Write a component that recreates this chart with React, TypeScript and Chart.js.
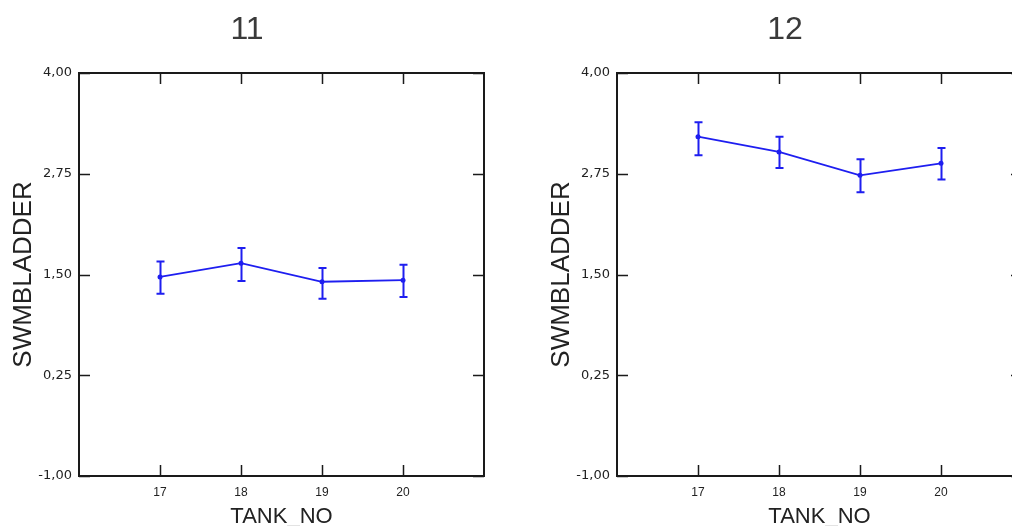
import React, { useEffect, useRef } from 'react';
import { Chart, registerables } from 'chart.js';

Chart.register(...registerables);

const TANKS = [17, 18, 19, 20];
const Y_TICKS = [-1, 0.25, 1.5, 2.75, 4];
const X_MIN = 16;
const X_MAX = 21;
const Y_MIN = -1;
const Y_MAX = 4;

const TITLE_11 = '11';
const MEAN_11 = [1.47, 1.64, 1.41, 1.43];
const UPPER_11 = [1.66, 1.83, 1.58, 1.62];
const LOWER_11 = [1.26, 1.42, 1.2, 1.22];

const TITLE_12 = '12';
const MEAN_12 = [3.21, 3.02, 2.73, 2.88];
const UPPER_12 = [3.39, 3.21, 2.93, 3.07];
const LOWER_12 = [2.98, 2.82, 2.52, 2.68];

const X_TITLE = 'TANK_NO';
const Y_TITLE = 'SWMBLADDER';

const BLUE = '#1e1ef0';
const INK = '#1a1a1a';

const framePlugin = {
  id: 'frame',
  afterDraw(chart: any) {
    const { ctx, chartArea: a, scales } = chart;
    const xs = scales.x;
    const ys = scales.y;
    const L = 11;
    ctx.save();
    ctx.strokeStyle = INK;
    ctx.lineWidth = 1.5;
    ctx.beginPath();
    TANKS.forEach((t) => {
      const px = Math.round(xs.getPixelForValue(t)) + 0.5;
      ctx.moveTo(px, a.bottom);
      ctx.lineTo(px, a.bottom - L);
      ctx.moveTo(px, a.top);
      ctx.lineTo(px, a.top + L);
    });
    Y_TICKS.forEach((v) => {
      const py = Math.round(ys.getPixelForValue(v)) + 0.5;
      ctx.moveTo(a.left, py);
      ctx.lineTo(a.left + L, py);
      ctx.moveTo(a.right, py);
      ctx.lineTo(a.right - L, py);
    });
    ctx.stroke();
    ctx.lineWidth = 2;
    ctx.strokeRect(a.left, a.top, a.right - a.left, a.bottom - a.top);
    ctx.restore();
  },
};

const errorBarPlugin = {
  id: 'errorBars',
  afterDatasetsDraw(chart: any) {
    const { ctx, scales } = chart;
    const xs = scales.x;
    const ys = scales.y;
    ctx.save();
    chart.data.datasets.forEach((ds: any) => {
      if (!ds.errLow || !ds.errHigh) return;
      ctx.strokeStyle = ds.borderColor;
      ctx.lineWidth = 2;
      ds.data.forEach((pt: any, i: number) => {
        const px = Math.round(xs.getPixelForValue(pt.x)) + 0.5;
        const pHi = ys.getPixelForValue(ds.errHigh[i]);
        const pLo = ys.getPixelForValue(ds.errLow[i]);
        ctx.beginPath();
        ctx.moveTo(px, pHi);
        ctx.lineTo(px, pLo);
        ctx.moveTo(px - 4, pHi);
        ctx.lineTo(px + 4, pHi);
        ctx.moveTo(px - 4, pLo);
        ctx.lineTo(px + 4, pLo);
        ctx.stroke();
      });
    });
    ctx.restore();
  },
};

function Panel(props: {
  left: number;
  title: string;
  mean: number[];
  upper: number[];
  lower: number[];
}) {
  const ref = useRef<HTMLCanvasElement | null>(null);
  useEffect(() => {
    if (!ref.current) return;
    const chart = new Chart(ref.current, {
      type: 'line',
      data: {
        datasets: [
          {
            data: TANKS.map((t, i) => ({ x: t, y: props.mean[i] })),
            borderColor: BLUE,
            backgroundColor: BLUE,
            borderWidth: 1.8,
            pointRadius: 2.5,
            pointBorderWidth: 0,
            pointBackgroundColor: BLUE,
            tension: 0,
            fill: false,
            errHigh: props.upper,
            errLow: props.lower,
          } as any,
        ],
      },
      options: {
        animation: false,
        responsive: false,
        devicePixelRatio: 1,
        layout: { padding: { left: 10, right: 10, top: 0, bottom: 0 } },
        plugins: {
          legend: { display: false },
          tooltip: { enabled: false },
          title: {
            display: true,
            text: props.title,
            color: '#3a3a3a',
            font: { family: 'Liberation Sans', size: 32, weight: 'normal', lineHeight: 1.2 },
            padding: { top: 11, bottom: 23.6 },
          },
        },
        scales: {
          x: {
            type: 'linear',
            min: X_MIN,
            max: X_MAX,
            grid: { display: false, drawTicks: false },
            border: { display: false },
            afterBuildTicks: (s: any) => {
              s.ticks = TANKS.map((v) => ({ value: v }));
            },
            afterFit: (s: any) => {
              s.height = 64;
            },
            ticks: {
              autoSkip: false,
              maxRotation: 0,
              padding: 9,
              color: '#222',
              font: { family: 'Liberation Sans', size: 12 },
              callback: (v: any) => String(v),
            },
            title: {
              display: true,
              text: X_TITLE,
              color: '#222',
              font: { family: 'Liberation Sans', size: 22, lineHeight: 1.2 },
              padding: { top: 0, bottom: 10 },
            },
          },
          y: {
            type: 'linear',
            min: Y_MIN,
            max: Y_MAX,
            grid: { display: false, drawTicks: false },
            border: { display: false },
            afterBuildTicks: (s: any) => {
              s.ticks = Y_TICKS.map((v) => ({ value: v }));
            },
            afterFit: (s: any) => {
              s.width = 69;
            },
            ticks: {
              autoSkip: false,
              padding: 7,
              color: '#222',
              font: { family: 'DejaVu Sans', size: 13 },
              callback: (v: any) => Number(v).toFixed(2).replace('.', ','),
            },
            title: {
              display: true,
              text: Y_TITLE,
              color: '#222',
              font: { family: 'Liberation Sans', size: 26, lineHeight: 1.0 },
              padding: { top: 1, bottom: 0 },
            },
          },
        },
      } as any,
      plugins: [framePlugin, errorBarPlugin],
    });
    return () => chart.destroy();
  }, []);
  return (
    <div style={{ position: 'absolute', left: props.left, top: 0, width: 494, height: 540 }}>
      <canvas ref={ref} width={494} height={540} style={{ display: 'block' }} />
    </div>
  );
}

export default function App() {
  return (
    <div
      style={{
        position: 'fixed',
        left: 0,
        top: 0,
        width: '100vw',
        height: '100vh',
        overflow: 'hidden',
        background: '#fff',
      }}
    >
      <Panel left={0} title={TITLE_11} mean={MEAN_11} upper={UPPER_11} lower={LOWER_11} />
      <Panel left={538} title={TITLE_12} mean={MEAN_12} upper={UPPER_12} lower={LOWER_12} />
    </div>
  );
}
